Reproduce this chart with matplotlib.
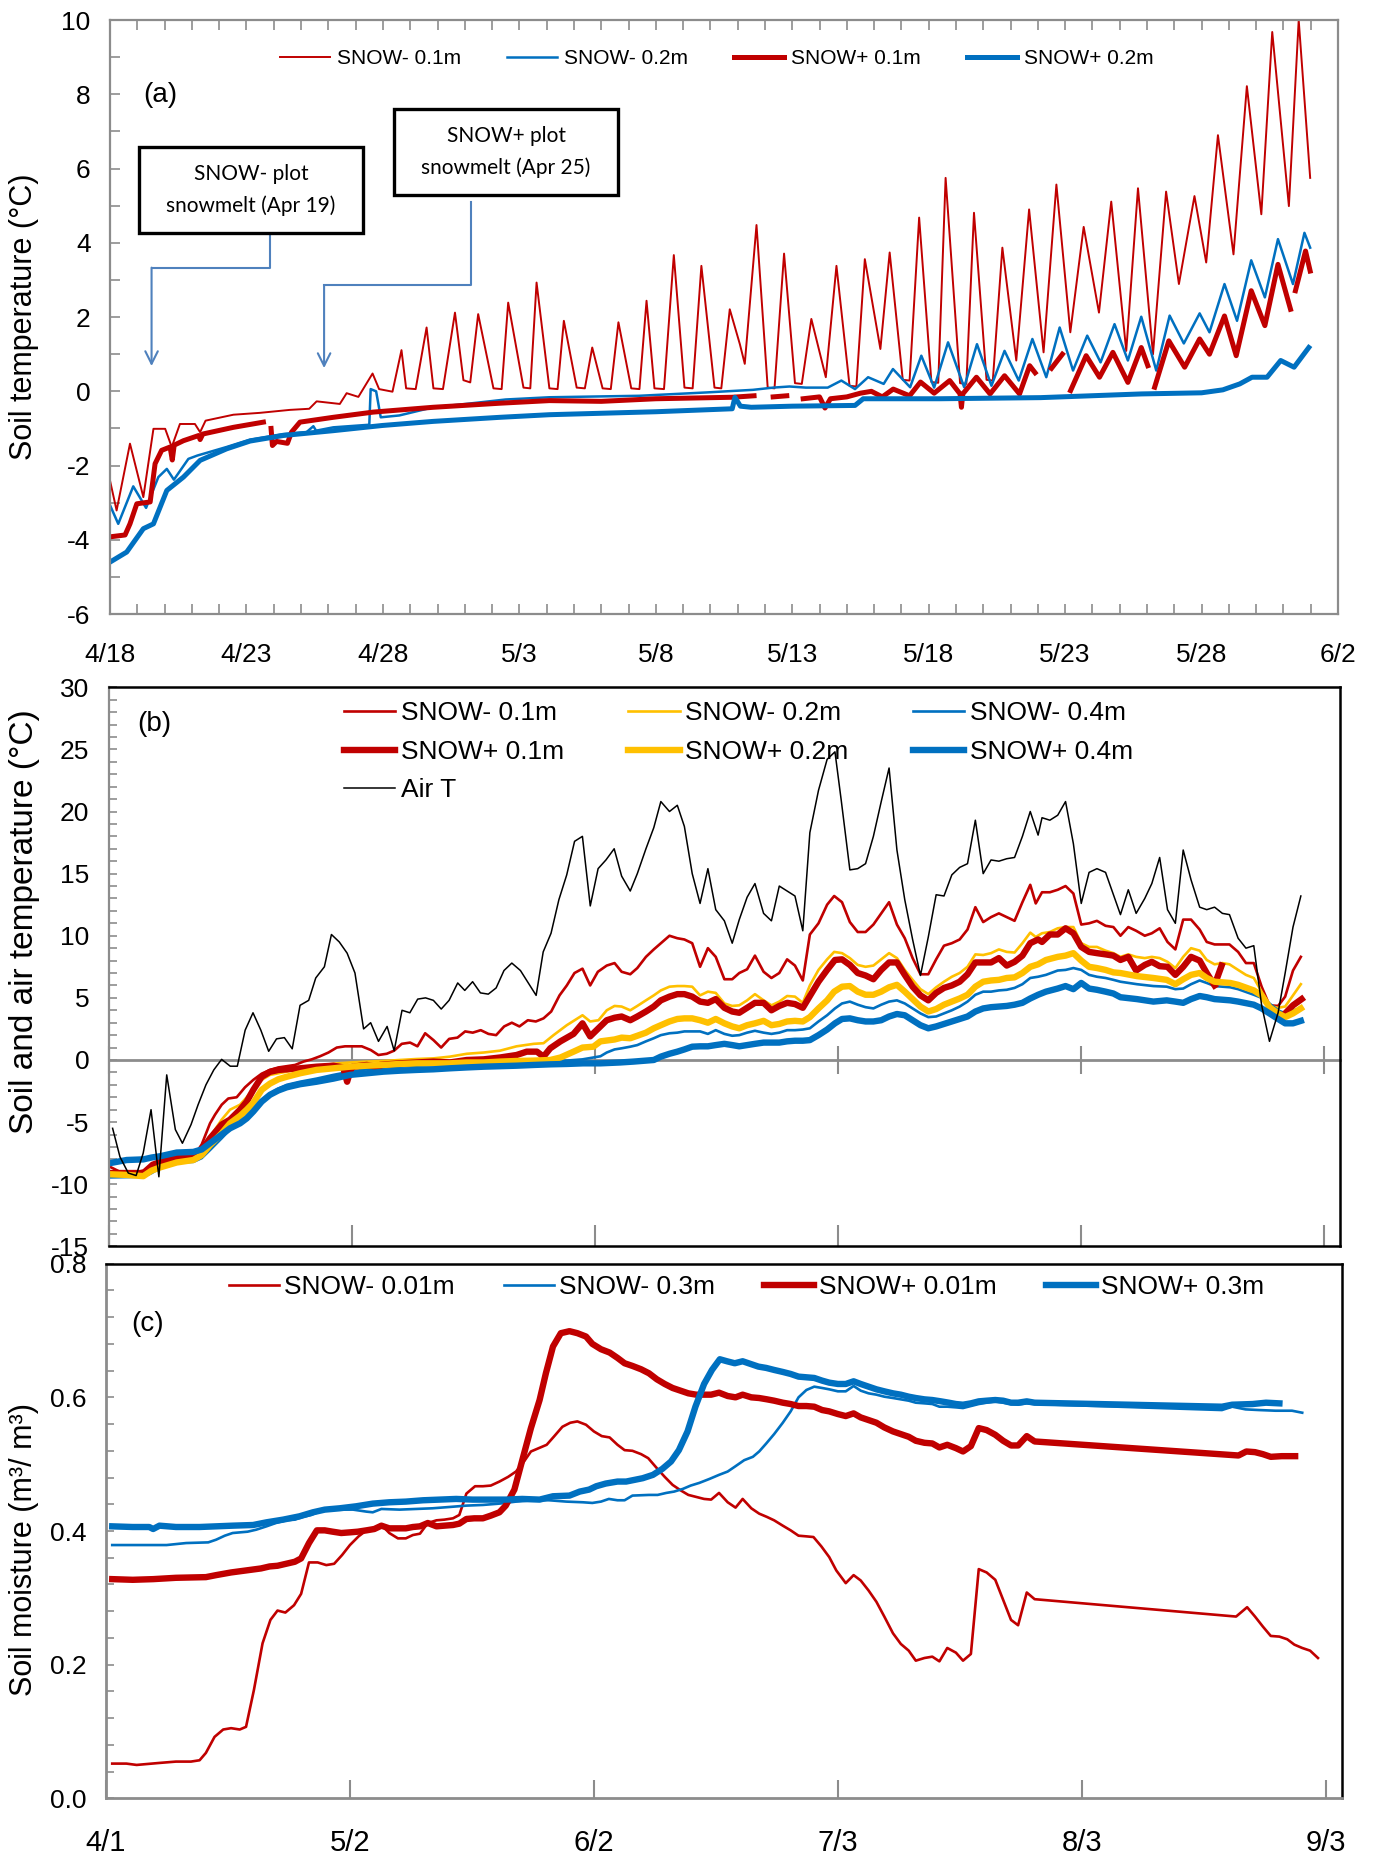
import numpy as np
import matplotlib
matplotlib.use("Agg")
import matplotlib.pyplot as plt
from matplotlib.patches import Rectangle
from matplotlib.ticker import MultipleLocator

plt.rcParams['font.family'] = ['Liberation Sans', 'DejaVu Sans']
plt.rcParams['axes.unicode_minus'] = False
nan = float('nan')

# ------------------------------------------------------------------ DATA
# Panel (a): x = days since 4/18 00:00, y = soil temperature (deg C)
a_xlabels = ["4/18", "4/23", "4/28", "5/3", "5/8", "5/13", "5/18", "5/23", "5/28", "6/2"]
a_snowm_01 = [
    (0.00, -2.41), (0.24, -3.21), (0.73, -1.41), (1.22, -2.85), (1.59, -1.01), (2.02, -1.01),
    (2.26, -1.50), (2.56, -0.88), (3.11, -0.88), (3.30, -1.10), (3.50, -0.79), (4.52, -0.63),
    (5.49, -0.58), (6.59, -0.50), (7.30, -0.47), (7.57, -0.27), (8.42, -0.34), (8.67, -0.05),
    (9.10, -0.15), (9.62, 0.48), (9.86, 0.06), (10.35, -0.01), (10.68, 1.11),
    (10.85, 0.08), (11.20, 0.06), (11.60, 1.72),
    (11.85, 0.08), (12.20, 0.06), (12.64, 2.12),
    (12.95, 0.30), (13.20, 0.24), (13.49, 2.08),
    (14.05, 0.08), (14.35, 0.06), (14.59, 2.39),
    (15.15, 0.10), (15.40, 0.08), (15.63, 2.93),
    (16.10, 0.08), (16.40, 0.06), (16.63, 1.90),
    (17.10, 0.10), (17.40, 0.08), (17.67, 1.18),
    (18.05, 0.08), (18.35, 0.06), (18.63, 1.86),
    (19.10, 0.08), (19.40, 0.06), (19.66, 2.44),
    (19.95, 0.08), (20.30, 0.06), (20.66, 3.67),
    (21.05, 0.10), (21.35, 0.08), (21.67, 3.38),
    (22.15, 0.10), (22.40, 0.08), (22.71, 2.21), (23.08, 1.27), (23.26, 0.74), (23.69, 4.48),
    (24.10, 0.10), (24.35, 0.08), (24.70, 3.71),
    (25.10, 0.22), (25.35, 0.20), (25.70, 1.95),
    (26.23, 0.38), (26.62, 3.38),
    (27.10, 0.15), (27.35, 0.13), (27.66, 3.56),
    (28.23, 1.14), (28.57, 3.74),
    (29.05, 0.31), (29.30, 0.29), (29.65, 4.68),
    (30.10, 0.25), (30.35, 0.23), (30.62, 5.75),
    (31.15, 0.22), (31.38, 0.20), (31.66, 4.81),
    (32.12, 0.31), (32.35, 0.29), (32.70, 3.87),
    (33.21, 0.83), (33.68, 4.90), (34.21, 1.05), (34.68, 5.57), (35.19, 1.59), (35.68, 4.43),
    (36.24, 2.12), (36.69, 5.11), (37.24, 1.09), (37.67, 5.47), (38.22, 1.00), (38.70, 5.38),
    (39.17, 2.89), (39.74, 5.26), (40.17, 3.47), (40.60, 6.90), (41.17, 3.69), (41.66, 8.22),
    (42.19, 4.77), (42.59, 9.68), (43.20, 4.99), (43.56, 10.0), (43.98, 5.75)]
a_snowm_02 = [
    (0.00, -3.07), (0.30, -3.57), (0.85, -2.56), (1.32, -3.14), (1.77, -2.31), (2.08, -2.09),
    (2.34, -2.38), (2.87, -1.82), (3.20, -1.73), (4.27, -1.50), (5.13, -1.30), (6.35, -1.15),
    (7.20, -1.10), (7.45, -0.94), (7.55, -1.06), (8.18, -0.97), (9.50, -0.90), (9.55, 0.06),
    (9.75, 0.00), (9.92, -0.70), (10.60, -0.65), (11.84, -0.43), (13.04, -0.34), (14.50, -0.22),
    (16.10, -0.16), (19.40, -0.12), (21.86, -0.03), (23.56, 0.04), (24.30, 0.10), (24.90, 0.13),
    (25.50, 0.10), (26.30, 0.10), (26.80, 0.29), (27.30, 0.06), (27.78, 0.38), (28.35, 0.20),
    (28.69, 0.60), (29.32, 0.11), (29.73, 0.96), (30.20, 0.10), (30.71, 1.32), (31.30, 0.11),
    (31.77, 1.27), (32.30, 0.15), (32.78, 1.09), (33.30, 0.29), (33.80, 1.41), (34.31, 0.38),
    (34.80, 1.72), (35.29, 0.56), (35.81, 1.50), (36.30, 0.78), (36.81, 1.81), (37.30, 0.83),
    (37.79, 2.01), (38.34, 0.56), (38.83, 2.04), (39.35, 1.29), (39.93, 2.10), (40.29, 1.59),
    (40.84, 2.89), (41.30, 1.90), (41.82, 3.53), (42.32, 2.53), (42.80, 4.10), (43.35, 2.89),
    (43.77, 4.27), (43.98, 3.87)]
a_snowp_01 = [
    (0.00, -3.92), (0.55, -3.87), (0.73, -3.57), (0.98, -3.03), (1.47, -2.98), (1.65, -1.95),
    (1.89, -1.59), (2.20, -1.50), (2.28, -1.85), (2.35, -1.45), (2.69, -1.33), (3.25, -1.19),
    (3.30, -1.30), (3.40, -1.15), (4.52, -0.97), (5.62, -0.83), (5.70, nan), (5.90, -1.00),
    (5.95, -1.46), (6.10, -1.35), (6.50, -1.40), (6.65, -1.10), (6.96, -0.83), (8.18, -0.70),
    (9.64, -0.56), (11.84, -0.43), (14.29, -0.32), (16.10, -0.25), (18.00, -0.27), (20.00, -0.20),
    (22.80, -0.16), (23.60, -0.12), (24.00, nan), (24.30, -0.15), (24.80, -0.12), (25.10, nan),
    (25.40, -0.20), (26.00, -0.15), (26.20, -0.45), (26.40, -0.20), (27.00, -0.15), (27.50, -0.05),
    (27.90, 0.00), (28.30, -0.15), (28.70, 0.06), (29.30, -0.12), (29.70, 0.25), (30.20, -0.05),
    (30.77, 0.29), (31.15, -0.07), (31.20, -0.43), (31.25, -0.07), (31.75, 0.38), (32.25, -0.07),
    (32.78, 0.42), (33.33, -0.07), (33.70, 0.69), (33.90, 0.50), (34.20, nan), (34.50, 0.62),
    (34.90, 1.00), (35.05, nan), (35.20, 0.02), (35.77, 0.96), (36.26, 0.38), (36.75, 1.05),
    (37.30, 0.24), (37.79, 1.18), (38.03, 0.69), (38.15, nan), (38.28, 0.11), (38.80, 1.36),
    (39.38, 0.65), (39.93, 1.41), (40.29, 1.00), (40.84, 2.03), (41.27, 0.96), (41.82, 2.71),
    (42.32, 1.77), (42.80, 3.42), (43.26, 2.21), (43.35, nan), (43.44, 2.71), (43.81, 3.78),
    (43.98, 3.24)]
a_snowp_02 = [
    (0.00, -4.60), (0.61, -4.33), (1.22, -3.70), (1.59, -3.57), (2.08, -2.67), (2.69, -2.31),
    (3.30, -1.86), (4.27, -1.55), (5.13, -1.34), (6.35, -1.19), (8.18, -1.06), (9.98, -0.92),
    (11.84, -0.81), (14.29, -0.70), (16.10, -0.63), (20.00, -0.55), (22.80, -0.47), (22.90, -0.16),
    (23.10, -0.40), (23.50, -0.43), (25.00, -0.40), (27.30, -0.38), (27.60, -0.20), (30.40, -0.20),
    (34.10, -0.17), (37.80, -0.07), (40.00, -0.04), (40.78, 0.04), (41.40, 0.20), (41.85, 0.38),
    (42.40, 0.38), (42.90, 0.83), (43.39, 0.65), (43.93, 1.18)]

# Panel (b): x = days since 4/1, y = temperature (deg C)
b_snowm_01 = [
    (0.17, -8.6), (1.44, -9.0), (3.14, -9.1), (4.42, -8.9), (5.48, -8.3), (6.54, -8.05), (7.61, -7.8),
    (8.67, -7.65), (9.94, -7.5), (11.22, -7.4), (11.86, -6.8), (12.92, -5.1), (13.56, -4.4),
    (14.41, -3.6), (15.25, -3.1), (16.32, -3.0), (17.38, -2.2), (18.44, -1.6), (19.51, -1.1),
    (20.57, -0.8), (21.64, -0.6), (22.7, -0.5), (23.76, -0.4), (24.83, -0.13), (25.89, 0.05),
    (26.95, 0.3), (28.02, 0.6), (29.08, 1.0), (30.14, 1.1), (31.2, 1.1), (32.27, 1.1), (33.42, 0.8),
    (34.39, 0.4), (35.45, 0.5), (36.39, 0.75), (37.37, 1.3), (38.43, 1.4), (39.37, 1.1), (40.35, 2.15),
    (41.41, 1.6), (42.39, 1.0), (43.41, 1.7), (44.47, 1.8), (45.45, 2.3), (46.42, 2.2), (47.44, 2.4),
    (48.42, 2.1), (49.4, 2.0), (50.42, 2.7), (51.4, 3.0), (52.37, 2.7), (53.44, 3.2), (54.46, 3.1),
    (55.44, 3.35), (56.42, 3.9), (57.48, 5.2), (58.41, 6.0), (59.39, 7.0), (60.41, 7.35), (61.39, 6.0),
    (62.37, 7.1), (63.5, 7.6), (64.5, 7.8), (65.4, 7.1), (66.5, 6.9), (67.4, 7.4), (68.5, 8.3),
    (69.5, 8.9), (70.4, 9.4), (71.5, 10.0), (72.5, 9.8), (73.4, 9.7), (74.4, 9.4), (75.4, 7.5),
    (76.4, 9.0), (77.4, 8.3), (78.5, 6.5), (79.5, 6.5), (80.4, 7.0), (81.4, 7.3), (82.4, 8.4),
    (83.5, 7.1), (84.5, 6.6), (85.5, 7.0), (86.5, 8.1), (87.5, 7.6), (88.5, 6.4), (89.4, 10.1),
    (90.5, 11.0), (91.6, 12.5), (92.5, 13.2), (93.5, 12.7), (94.5, 11.1), (95.5, 10.3), (96.5, 10.3),
    (97.5, 10.9), (98.5, 11.8), (99.5, 12.7), (100.5, 10.9), (101.5, 9.8), (102.5, 8.2), (103.5, 6.9),
    (104.5, 6.9), (105.5, 8.1), (106.5, 9.2), (107.5, 9.4), (108.5, 9.7), (109.5, 10.5), (110.5, 12.3),
    (111.5, 11.1), (112.5, 11.5), (113.5, 11.8), (114.5, 11.5), (115.5, 11.2), (116.5, 12.7),
    (117.5, 14.1), (118.2, 12.6), (119.0, 13.5), (120.0, 13.5), (121.0, 13.7), (122.0, 14.0),
    (123.0, 13.4), (124.0, 10.9), (125.0, 11.0), (126.0, 11.2), (127.1, 10.8), (128.1, 10.7),
    (129.0, 10.0), (130.0, 10.7), (131.0, 10.4), (132.1, 10.0), (133.0, 10.2), (134.0, 10.6),
    (135.0, 9.5), (136.0, 8.9), (137.0, 11.3), (138.0, 11.3), (139.1, 10.5), (140.0, 9.5),
    (141.0, 9.3), (142.0, 9.3), (142.9, 9.3), (144.0, 8.7), (145.0, 7.8), (146.0, 7.8), (147.0, 5.9),
    (148.0, 4.4), (149.1, 4.35), (150.0, 5.1), (151.0, 7.2), (152.0, 8.3)]
b_snowm_02 = [
    (0.17, -9.25), (4.42, -9.4), (5.48, -8.9), (6.54, -8.4), (8.67, -8.05), (10.8, -7.9), (11.86, -7.4),
    (12.92, -6.2), (14.41, -4.8), (15.47, -4.0), (16.75, -3.6), (17.6, -3.0), (18.44, -2.3),
    (19.51, -1.6), (20.57, -1.2), (22.7, -0.94), (24.4, -0.67), (26.5, -0.5), (28.65, -0.3),
    (30.77, -0.2), (32.9, -0.13), (35.03, -0.08), (37.15, 0.0), (39.28, 0.08), (41.4, 0.13),
    (43.53, 0.27), (45.66, 0.5), (47.8, 0.6), (49.9, 0.75), (52.0, 1.1), (54.2, 1.3), (55.44, 1.35),
    (56.72, 2.0), (58.41, 2.8), (60.41, 3.6), (61.39, 3.1), (62.45, 3.2), (63.5, 4.0), (64.5, 4.35),
    (65.4, 4.3), (66.5, 4.0), (67.4, 4.35), (68.5, 4.8), (69.5, 5.2), (70.4, 5.6), (71.5, 5.9),
    (72.5, 5.95), (73.4, 5.95), (74.4, 5.9), (75.4, 5.2), (76.4, 5.5), (77.4, 5.4), (78.5, 4.55),
    (79.5, 4.35), (80.4, 4.4), (81.4, 4.8), (82.4, 5.3), (83.5, 4.8), (84.5, 4.4), (85.5, 4.7),
    (86.5, 5.15), (87.5, 5.1), (88.5, 4.6), (89.4, 6.0), (90.5, 7.25), (91.6, 8.1), (92.5, 8.7),
    (93.5, 8.6), (94.5, 8.2), (95.5, 7.65), (96.5, 7.5), (97.5, 7.6), (98.5, 8.1), (99.5, 8.6),
    (100.5, 8.2), (101.5, 7.25), (102.5, 6.45), (103.5, 5.7), (104.5, 5.3), (105.5, 5.85),
    (106.5, 6.3), (107.5, 6.7), (108.5, 7.0), (109.5, 7.5), (110.5, 8.5), (111.5, 8.45), (112.5, 8.6),
    (113.5, 8.9), (114.5, 8.7), (115.5, 8.65), (116.5, 9.4), (117.5, 10.25), (118.2, 9.9),
    (119.0, 10.2), (120.0, 10.3), (121.0, 10.6), (122.0, 10.7), (123.0, 10.7), (124.0, 9.4),
    (125.0, 9.1), (126.0, 9.1), (127.1, 8.8), (128.1, 8.6), (129.0, 8.3), (130.0, 8.5), (131.0, 8.3),
    (132.1, 8.2), (133.0, 8.3), (134.0, 8.2), (135.0, 7.9), (136.0, 7.4), (137.0, 8.3), (138.0, 9.0),
    (139.1, 8.8), (140.0, 8.05), (141.0, 7.7), (142.0, 7.8), (142.9, 7.7), (144.0, 7.25), (145.0, 6.85),
    (146.0, 6.6), (147.0, 5.5), (148.0, 4.35), (149.1, 4.2), (150.0, 4.3), (151.0, 5.2), (152.0, 6.1)]
b_snowm_04 = [
    (0.17, -9.45), (4.42, -9.4), (5.48, -9.1), (6.54, -8.7), (8.67, -8.25), (10.8, -8.2), (11.86, -7.9),
    (12.92, -7.25), (14.41, -6.3), (15.47, -5.6), (16.75, -5.0), (17.6, -4.55), (18.44, -4.0),
    (19.51, -3.3), (20.57, -2.7), (21.64, -2.3), (22.7, -2.0), (24.4, -1.75), (26.5, -1.5),
    (28.65, -1.2), (30.77, -0.94), (32.9, -0.75), (35.03, -0.62), (37.15, -0.54), (39.28, -0.46),
    (41.4, -0.4), (43.5, -0.35), (45.66, -0.32), (47.8, -0.27), (49.9, -0.2), (52.0, -0.2),
    (54.2, -0.16), (56.3, -0.13), (58.4, -0.05), (60.4, 0.05), (61.8, 0.2), (62.7, 0.3), (63.5, 0.6),
    (64.5, 0.85), (65.4, 0.94), (66.5, 1.07), (67.4, 1.2), (68.5, 1.5), (69.5, 1.75), (70.4, 2.0),
    (71.5, 2.15), (72.5, 2.2), (73.4, 2.3), (74.4, 2.3), (75.4, 2.3), (76.4, 2.1), (77.4, 2.4),
    (78.5, 2.1), (79.5, 1.95), (80.4, 2.0), (81.4, 2.2), (82.4, 2.35), (83.5, 2.2), (84.5, 2.1),
    (85.5, 2.2), (86.5, 2.4), (87.5, 2.4), (88.5, 2.45), (89.4, 2.55), (90.5, 3.1), (91.6, 3.6),
    (92.6, 4.15), (93.5, 4.55), (94.5, 4.7), (95.5, 4.45), (96.5, 4.25), (97.5, 4.15), (98.5, 4.45),
    (99.5, 4.7), (100.5, 4.8), (101.5, 4.55), (102.5, 4.15), (103.5, 3.75), (104.5, 3.45),
    (105.5, 3.5), (106.5, 3.75), (107.5, 4.0), (108.5, 4.3), (109.5, 4.7), (110.5, 5.25), (111.5, 5.5),
    (112.5, 5.5), (113.5, 5.6), (114.5, 5.65), (115.5, 5.8), (116.5, 6.1), (117.5, 6.6), (118.5, 6.7),
    (119.5, 6.85), (121.0, 7.2), (122.0, 7.25), (123.0, 7.4), (124.0, 7.25), (125.0, 6.85),
    (126.0, 6.7), (127.1, 6.6), (128.1, 6.45), (129.0, 6.3), (131.1, 6.1), (133.2, 5.95), (134.9, 5.9),
    (136.0, 5.7), (137.0, 5.75), (138.0, 6.1), (139.1, 6.4), (140.0, 6.2), (141.0, 5.95), (143.0, 5.85),
    (144.0, 5.7), (146.0, 5.25), (147.0, 5.0), (148.0, 4.55), (149.1, 4.0), (150.0, 3.75),
    (151.0, 4.0), (152.0, 4.15)]
b_snowp_01 = [
    (0.17, -9.1), (2.3, -9.1), (4.42, -9.1), (5.48, -8.7), (6.54, -8.2), (8.67, -7.85), (10.8, -7.65),
    (11.86, -7.25), (12.92, -6.3), (14.41, -5.2), (15.47, -4.8), (16.75, -4.0), (17.6, -3.35),
    (18.44, -2.4), (19.51, -1.35), (20.57, -0.95), (21.64, -0.8), (22.7, -0.75), (24.4, -0.67),
    (26.5, -0.54), (28.65, -0.46), (29.9, -0.6), (30.4, -1.75), (30.9, -0.7), (31.2, -0.54),
    (32.9, -0.4), (34.2, -0.55), (34.4, -0.94), (34.6, -0.4), (35.45, -0.35), (37.15, -0.27),
    (39.28, -0.2), (41.4, -0.13), (43.5, -0.2), (45.66, 0.0), (47.8, 0.05), (49.9, 0.2), (52.0, 0.4),
    (53.3, 0.67), (54.6, 0.67), (55.44, 0.27), (56.3, 0.94), (57.6, 1.5), (59.27, 2.1), (60.41, 2.95),
    (61.39, 1.9), (62.45, 2.55), (63.5, 3.2), (64.5, 3.4), (65.4, 3.5), (66.5, 3.2), (67.4, 3.5),
    (68.5, 3.9), (69.5, 4.3), (70.4, 4.8), (71.5, 5.1), (72.5, 5.3), (73.4, 5.3), (74.4, 5.1),
    (75.4, 4.7), (76.4, 4.6), (77.4, 4.9), (78.5, 4.2), (79.5, 3.9), (80.4, 3.8), (81.4, 4.2),
    (82.4, 4.6), (83.5, 4.6), (84.5, 4.0), (85.5, 4.35), (86.5, 4.6), (87.5, 4.5), (88.5, 4.2),
    (89.4, 5.15), (90.5, 6.3), (91.6, 7.25), (92.6, 8.05), (93.5, 8.1), (94.5, 7.65), (95.5, 7.0),
    (96.5, 6.8), (97.5, 6.5), (98.5, 7.25), (99.5, 7.85), (100.5, 7.85), (101.5, 6.85), (102.5, 5.9),
    (103.5, 5.2), (104.5, 4.8), (105.5, 5.4), (106.5, 5.8), (107.5, 6.0), (108.5, 6.3), (109.5, 6.9),
    (110.5, 7.85), (111.5, 7.85), (112.5, 7.85), (113.5, 8.2), (114.5, 7.6), (115.5, 7.9),
    (116.5, 8.4), (117.5, 9.4), (118.5, 9.7), (119.0, 9.5), (120.0, 10.1), (121.0, 10.1),
    (122.0, 10.6), (123.0, 10.2), (124.0, 9.1), (125.0, 8.7), (126.0, 8.6), (127.1, 8.5),
    (128.1, 8.4), (129.0, 8.05), (130.0, 8.3), (131.0, 7.2), (132.1, 7.65), (133.0, 7.9),
    (134.0, 7.55), (135.0, 7.5), (136.0, 6.85), (137.0, 7.5), (138.0, 8.3), (139.1, 8.0),
    (140.0, 7.0), (141.0, 6.0), (141.05, nan), (141.1, 6.2), (141.9, 7.6), (142.0, nan),
    (150.0, 3.75), (151.0, 4.4), (152.1, 4.9)]
b_snowp_02 = [
    (0.17, -9.2), (2.3, -9.25), (4.42, -9.35), (5.48, -8.9), (6.54, -8.65), (8.67, -8.25),
    (10.8, -8.05), (11.86, -7.65), (12.92, -6.85), (14.41, -5.9), (15.47, -5.1), (16.75, -4.5),
    (17.6, -4.0), (18.44, -3.45), (19.51, -2.4), (20.57, -1.9), (21.64, -1.55), (22.7, -1.35),
    (24.4, -1.07), (26.5, -0.8), (28.65, -0.67), (30.77, -0.54), (32.9, -0.46), (35.03, -0.4),
    (37.15, -0.32), (39.28, -0.27), (43.5, -0.27), (45.66, -0.2), (47.8, -0.2), (49.9, -0.13),
    (52.0, -0.08), (54.2, -0.05), (56.3, 0.0), (57.6, 0.2), (59.27, 0.67), (60.41, 1.0),
    (61.8, 1.07), (62.7, 1.5), (64.5, 1.65), (65.4, 1.8), (66.5, 1.75), (67.4, 1.95), (68.5, 2.2),
    (69.5, 2.55), (70.4, 2.8), (71.5, 3.1), (72.5, 3.3), (73.4, 3.35), (74.4, 3.35), (75.4, 3.2),
    (76.4, 3.0), (77.4, 3.3), (78.5, 2.95), (79.5, 2.7), (80.4, 2.55), (81.4, 2.8), (82.4, 2.95),
    (83.5, 3.15), (84.5, 2.8), (85.5, 2.9), (86.5, 3.1), (87.5, 3.15), (88.5, 3.1), (89.4, 3.45),
    (90.5, 4.15), (91.6, 4.8), (92.5, 5.5), (93.5, 5.9), (94.5, 5.95), (95.5, 5.5), (96.5, 5.25),
    (97.5, 5.25), (98.5, 5.5), (99.5, 5.85), (100.5, 6.05), (101.5, 5.5), (102.5, 4.9), (103.5, 4.3),
    (104.5, 3.9), (105.5, 4.1), (106.5, 4.45), (107.5, 4.7), (108.5, 4.95), (109.5, 5.25),
    (110.5, 5.9), (111.5, 6.3), (112.5, 6.4), (113.5, 6.45), (114.5, 6.6), (115.5, 6.65),
    (116.5, 7.0), (117.5, 7.5), (118.5, 7.7), (119.5, 8.05), (121.0, 8.3), (122.0, 8.4),
    (123.0, 8.6), (124.0, 8.0), (125.0, 7.5), (126.0, 7.4), (127.1, 7.25), (128.1, 7.05),
    (129.0, 7.0), (131.1, 6.75), (133.2, 6.6), (134.9, 6.45), (136.0, 6.1), (137.0, 6.5),
    (138.0, 6.85), (139.1, 7.0), (140.0, 6.6), (141.0, 6.3), (143.0, 6.2), (144.0, 6.05),
    (146.0, 5.6), (147.0, 5.2), (148.0, 4.25), (149.1, 3.75), (150.0, 3.45), (151.0, 3.75),
    (152.0, 4.15)]
b_snowp_04 = [
    (0.17, -8.3), (2.3, -8.05), (4.42, -8.0), (5.48, -7.85), (6.54, -7.75), (8.67, -7.45),
    (10.8, -7.4), (11.86, -7.2), (12.92, -6.7), (14.41, -6.0), (15.47, -5.5), (16.75, -5.1),
    (17.6, -4.7), (18.44, -4.15), (19.51, -3.35), (20.57, -2.8), (21.64, -2.45), (22.7, -2.2),
    (24.4, -1.95), (26.5, -1.75), (28.65, -1.5), (30.77, -1.2), (32.9, -1.07), (35.03, -0.94),
    (37.15, -0.86), (39.28, -0.8), (41.4, -0.75), (43.5, -0.67), (45.66, -0.6), (47.8, -0.54),
    (49.9, -0.5), (52.0, -0.46), (54.2, -0.4), (56.3, -0.35), (58.4, -0.32), (60.5, -0.27),
    (62.7, -0.27), (65.2, -0.2), (66.9, -0.13), (69.5, 0.0), (70.4, 0.27), (71.5, 0.5), (72.5, 0.67),
    (73.4, 0.85), (74.4, 1.07), (75.4, 1.1), (76.4, 1.1), (77.4, 1.2), (78.5, 1.3), (79.5, 1.2),
    (80.4, 1.1), (81.4, 1.2), (82.4, 1.3), (83.5, 1.4), (84.5, 1.4), (85.5, 1.4), (86.5, 1.5),
    (87.5, 1.55), (88.5, 1.55), (89.4, 1.6), (90.5, 2.0), (91.6, 2.45), (92.6, 2.95), (93.5, 3.3),
    (94.5, 3.35), (95.5, 3.2), (96.5, 3.1), (97.5, 3.1), (98.5, 3.2), (99.5, 3.5), (100.5, 3.7),
    (101.5, 3.6), (102.5, 3.2), (103.5, 2.8), (104.5, 2.55), (105.5, 2.7), (106.5, 2.9), (107.5, 3.1),
    (108.5, 3.3), (109.5, 3.5), (110.5, 3.9), (111.5, 4.15), (112.5, 4.25), (113.5, 4.3),
    (114.5, 4.35), (115.5, 4.45), (116.5, 4.6), (117.5, 4.95), (118.5, 5.25), (119.5, 5.5),
    (121.0, 5.75), (122.0, 5.95), (123.0, 5.7), (124.0, 6.2), (125.0, 5.75), (126.0, 5.65),
    (127.1, 5.5), (128.1, 5.35), (129.0, 5.05), (131.1, 4.9), (133.2, 4.7), (134.9, 4.8), (136.0, 4.7),
    (137.0, 4.6), (138.0, 4.9), (139.1, 5.15), (140.0, 5.05), (141.0, 4.9), (143.0, 4.8), (144.0, 4.7),
    (146.0, 4.45), (147.0, 4.15), (148.0, 3.75), (149.1, 3.3), (150.0, 2.95), (151.0, 2.95),
    (152.0, 3.15)]
b_air = [
    (0.5, -5.5), (1.44, -7.8), (2.5, -9.1), (3.5, -9.3), (4.4, -7.5), (5.4, -4.0), (6.4, -9.4),
    (7.4, -1.2), (8.5, -5.6), (9.4, -6.7), (10.5, -5.2), (11.4, -3.6), (12.4, -2.0), (13.4, -0.8),
    (14.4, 0.05), (15.5, -0.5), (16.4, -0.5), (17.4, 2.4), (18.4, 3.8), (19.4, 2.4), (20.4, 0.7),
    (21.4, 1.7), (22.4, 1.8), (23.4, 0.9), (24.4, 4.4), (25.5, 4.8), (26.4, 6.6), (27.5, 7.5),
    (28.4, 10.1), (29.4, 9.5), (30.4, 8.6), (31.4, 7.0), (32.5, 2.5), (33.4, 3.0), (34.4, 1.5),
    (35.5, 2.7), (36.4, 0.75), (37.4, 4.0), (38.4, 3.8), (39.4, 4.9), (40.4, 5.0), (41.4, 4.8),
    (42.4, 4.1), (43.4, 4.8), (44.5, 6.2), (45.4, 5.6), (46.4, 6.3), (47.4, 5.4), (48.4, 5.3),
    (49.4, 5.8), (50.4, 7.2), (51.4, 7.8), (52.5, 7.2), (53.4, 6.3), (54.5, 5.2), (55.4, 8.7),
    (56.4, 10.2), (57.4, 12.9), (58.4, 14.9), (59.4, 17.6), (60.4, 18.0), (61.4, 12.4), (62.4, 15.4),
    (63.4, 16.1), (64.45, 17.0), (65.4, 14.8), (66.5, 13.6), (67.4, 15.0), (68.5, 17.0), (69.5, 18.7),
    (70.4, 20.8), (71.5, 20.0), (72.5, 20.5), (73.4, 18.8), (74.4, 15.0), (75.4, 12.6), (76.4, 15.4),
    (77.4, 12.1), (78.5, 11.2), (79.5, 9.4), (80.4, 11.3), (81.4, 13.1), (82.4, 14.2), (83.5, 11.8),
    (84.5, 11.2), (85.5, 14.0), (86.5, 13.6), (87.5, 13.2), (88.5, 10.4), (89.4, 18.3), (90.5, 21.7),
    (91.6, 24.2), (92.6, 24.8), (93.4, 20.9), (94.5, 15.3), (95.5, 15.4), (96.5, 15.8), (97.5, 18.0),
    (98.5, 20.8), (99.5, 23.5), (100.5, 16.9), (101.5, 12.9), (102.5, 9.7), (103.5, 6.8), (104.5, 9.9),
    (105.5, 13.3), (106.5, 13.2), (107.5, 14.9), (108.5, 15.5), (109.5, 15.8), (110.5, 19.3),
    (111.5, 15.0), (112.5, 16.1), (113.5, 16.0), (114.5, 16.2), (115.5, 16.3), (116.5, 18.0),
    (117.5, 20.0), (118.5, 18.1), (119.0, 19.5), (120.0, 19.3), (121.0, 19.7), (122.0, 20.8),
    (123.0, 17.4), (124.0, 12.6), (125.0, 15.1), (126.0, 15.4), (127.1, 15.1), (128.1, 13.3),
    (129.0, 11.7), (130.0, 13.7), (131.0, 11.8), (132.1, 13.0), (133.0, 14.2), (134.0, 16.3),
    (135.0, 12.1), (136.0, 11.0), (137.0, 16.9), (138.0, 14.5), (139.1, 12.3), (140.0, 12.1),
    (141.0, 12.3), (142.0, 11.8), (142.9, 11.7), (144.0, 9.8), (145.0, 9.0), (146.0, 9.2),
    (147.0, 4.4), (148.0, 1.5), (149.1, 3.8), (150.0, 7.0), (151.0, 10.7), (152.0, 13.2)]

# Panel (c): x = days since 4/1, y = soil moisture (m3/m3)
c_xlabels = ["4/1", "5/2", "6/2", "7/3", "8/3", "9/3"]
c_snowm_001 = [
    (0.8, 0.052), (2.6, 0.052), (3.9, 0.050), (6.8, 0.053), (8.9, 0.055), (10.8, 0.055), (11.9, 0.057),
    (12.7, 0.068), (13.8, 0.092), (14.9, 0.103), (15.9, 0.105), (17.0, 0.103), (17.8, 0.107),
    (18.8, 0.162), (19.9, 0.232), (20.9, 0.267), (21.8, 0.281), (22.8, 0.278), (23.9, 0.289),
    (24.8, 0.306), (25.8, 0.353), (26.9, 0.353), (28.0, 0.349), (29.0, 0.351), (30.0, 0.364),
    (31.0, 0.379), (32.1, 0.392), (33.1, 0.401), (34.0, 0.403), (35.1, 0.408), (36.0, 0.397),
    (37.1, 0.389), (38.1, 0.389), (39.0, 0.394), (39.9, 0.396), (40.9, 0.412), (42.0, 0.416),
    (43.0, 0.417), (44.1, 0.419), (44.9, 0.424), (45.8, 0.456), (46.9, 0.467), (47.9, 0.467),
    (48.9, 0.468), (50.0, 0.474), (51.1, 0.481), (52.1, 0.489), (53.0, 0.502), (54.0, 0.519),
    (55.0, 0.524), (56.0, 0.529), (56.9, 0.541), (58.0, 0.556), (59.0, 0.562), (59.9, 0.564),
    (61.0, 0.559), (62.0, 0.549), (63.0, 0.542), (64.0, 0.540), (65.0, 0.529), (65.9, 0.521),
    (66.9, 0.520), (68.0, 0.515), (68.9, 0.509), (70.0, 0.494), (71.0, 0.481), (72.0, 0.469),
    (73.0, 0.461), (74.0, 0.454), (75.0, 0.451), (76.0, 0.448), (76.9, 0.447), (77.9, 0.457),
    (79.0, 0.443), (80.0, 0.435), (80.9, 0.448), (82.0, 0.434), (83.0, 0.426), (84.0, 0.421),
    (84.9, 0.416), (86.0, 0.408), (87.0, 0.401), (88.0, 0.393), (89.0, 0.392), (89.9, 0.391),
    (90.9, 0.377), (91.9, 0.361), (92.8, 0.341), (94.0, 0.322), (95.0, 0.334), (95.9, 0.326),
    (96.9, 0.311), (97.9, 0.294), (98.9, 0.272), (100.0, 0.247), (101.0, 0.231), (102.0, 0.221),
    (102.9, 0.206), (104.0, 0.210), (105.0, 0.212), (105.9, 0.205), (106.9, 0.225), (108.0, 0.218),
    (108.9, 0.206), (109.9, 0.216), (110.9, 0.343), (111.9, 0.338), (113.0, 0.327), (114.0, 0.297),
    (115.0, 0.267), (115.9, 0.259), (117.0, 0.308), (118.0, 0.298), (143.6, 0.272), (145.0, 0.286),
    (146.0, 0.272), (147.0, 0.257), (148.0, 0.243), (149.1, 0.242), (150.1, 0.238), (151.0, 0.230),
    (152.0, 0.225), (153.0, 0.221), (154.0, 0.210)]
c_snowm_03 = [
    (0.8, 0.379), (4.3, 0.379), (7.7, 0.379), (10.2, 0.382), (13.0, 0.383), (14.0, 0.387),
    (15.1, 0.393), (16.1, 0.397), (18.0, 0.399), (19.1, 0.402), (20.4, 0.407), (21.6, 0.412),
    (22.9, 0.416), (24.0, 0.417), (25.0, 0.421), (26.1, 0.424), (27.1, 0.429), (28.4, 0.432),
    (29.7, 0.432), (31.4, 0.432), (33.1, 0.429), (33.9, 0.428), (35.0, 0.433), (37.3, 0.432),
    (39.4, 0.433), (41.5, 0.434), (43.7, 0.436), (45.8, 0.438), (47.9, 0.439), (50.0, 0.441),
    (52.1, 0.444), (54.2, 0.446), (56.3, 0.446), (58.5, 0.444), (60.6, 0.443), (61.8, 0.442),
    (62.9, 0.444), (63.9, 0.448), (65.0, 0.446), (65.9, 0.446), (66.9, 0.453), (69.0, 0.454),
    (70.1, 0.454), (71.2, 0.457), (72.2, 0.459), (73.3, 0.463), (74.3, 0.468), (75.4, 0.472),
    (76.7, 0.478), (77.9, 0.484), (79.0, 0.489), (80.0, 0.497), (81.1, 0.506), (82.2, 0.511),
    (83.0, 0.519), (83.9, 0.531), (84.9, 0.545), (86.0, 0.562), (87.0, 0.579), (88.0, 0.600),
    (89.0, 0.611), (90.0, 0.616), (91.0, 0.614), (91.9, 0.612), (93.0, 0.609), (94.0, 0.609),
    (95.0, 0.617), (95.9, 0.610), (96.9, 0.606), (97.9, 0.604), (98.9, 0.601), (100.0, 0.599),
    (101.0, 0.597), (102.0, 0.595), (102.9, 0.592), (104.0, 0.591), (105.0, 0.590), (105.9, 0.586),
    (106.9, 0.586), (108.0, 0.585), (108.9, 0.584), (109.9, 0.587), (110.9, 0.590), (111.9, 0.592),
    (113.0, 0.594), (114.0, 0.592), (115.0, 0.590), (115.9, 0.589), (117.0, 0.591), (118.0, 0.590),
    (141.8, 0.581), (143.1, 0.586), (144.8, 0.582), (146.5, 0.581), (148.6, 0.580), (150.7, 0.580),
    (152.0, 0.577)]
c_snowp_001 = [
    (0.8, 0.328), (3.4, 0.327), (6.0, 0.328), (8.9, 0.330), (12.7, 0.331), (14.0, 0.334),
    (15.9, 0.338), (17.8, 0.341), (19.7, 0.344), (20.8, 0.347), (21.8, 0.348), (22.9, 0.351),
    (24.0, 0.354), (24.8, 0.359), (25.8, 0.382), (26.8, 0.401), (27.8, 0.401), (28.8, 0.399),
    (29.9, 0.397), (31.0, 0.398), (32.0, 0.399), (33.1, 0.401), (34.1, 0.403), (35.0, 0.408),
    (36.0, 0.404), (37.1, 0.404), (38.1, 0.404), (39.0, 0.406), (39.9, 0.407), (40.9, 0.412),
    (42.0, 0.407), (43.0, 0.408), (44.1, 0.409), (44.9, 0.411), (45.8, 0.418), (46.8, 0.419),
    (47.9, 0.419), (48.9, 0.423), (50.0, 0.428), (50.8, 0.438), (51.9, 0.462), (52.9, 0.506),
    (54.0, 0.554), (55.1, 0.596), (55.9, 0.636), (56.8, 0.676), (57.8, 0.696), (58.9, 0.699),
    (59.9, 0.696), (61.0, 0.691), (61.8, 0.680), (62.9, 0.672), (64.0, 0.667), (65.0, 0.659),
    (65.9, 0.651), (66.9, 0.647), (68.0, 0.642), (69.0, 0.636), (70.0, 0.627), (71.0, 0.620),
    (72.0, 0.614), (73.0, 0.610), (74.0, 0.606), (75.0, 0.604), (76.0, 0.604), (76.9, 0.604),
    (77.9, 0.607), (79.0, 0.602), (80.0, 0.600), (80.9, 0.604), (82.0, 0.600), (83.0, 0.599),
    (84.0, 0.597), (84.9, 0.595), (86.0, 0.592), (87.0, 0.590), (88.0, 0.587), (89.0, 0.587),
    (90.0, 0.586), (91.0, 0.581), (91.9, 0.579), (93.0, 0.575), (94.0, 0.572), (95.0, 0.576),
    (95.9, 0.570), (96.9, 0.566), (97.9, 0.562), (98.9, 0.555), (100.0, 0.549), (101.0, 0.545),
    (102.0, 0.541), (102.9, 0.535), (104.0, 0.532), (105.0, 0.531), (105.9, 0.525), (106.9, 0.529),
    (108.0, 0.524), (108.9, 0.519), (109.9, 0.527), (110.9, 0.554), (111.9, 0.551), (113.0, 0.544),
    (114.0, 0.535), (115.0, 0.528), (115.9, 0.528), (117.0, 0.542), (118.0, 0.534), (143.9, 0.513),
    (144.9, 0.519), (146.0, 0.518), (147.0, 0.515), (148.0, 0.511), (149.4, 0.512), (151.1, 0.512)]
c_snowp_03 = [
    (0.8, 0.407), (3.4, 0.406), (5.5, 0.406), (6.0, 0.403), (6.8, 0.408), (8.9, 0.406), (11.9, 0.406),
    (14.0, 0.407), (16.1, 0.408), (18.7, 0.409), (20.4, 0.413), (22.5, 0.417), (24.6, 0.422),
    (26.3, 0.428), (27.8, 0.432), (29.7, 0.434), (31.8, 0.437), (33.9, 0.441), (36.0, 0.443),
    (38.1, 0.444), (40.3, 0.446), (42.4, 0.447), (44.5, 0.448), (46.6, 0.447), (48.7, 0.447),
    (50.8, 0.447), (52.9, 0.448), (55.1, 0.447), (56.8, 0.452), (58.9, 0.453), (60.2, 0.459),
    (61.4, 0.462), (62.3, 0.467), (63.5, 0.471), (65.0, 0.474), (66.1, 0.474), (68.2, 0.479),
    (69.5, 0.484), (70.7, 0.493), (71.8, 0.504), (72.8, 0.521), (73.9, 0.549), (74.9, 0.586),
    (76.0, 0.620), (77.0, 0.641), (78.0, 0.657), (78.9, 0.654), (79.9, 0.651), (80.9, 0.654),
    (81.9, 0.650), (82.9, 0.646), (83.9, 0.644), (84.9, 0.641), (86.0, 0.638), (87.0, 0.635),
    (88.0, 0.631), (89.0, 0.630), (90.0, 0.629), (91.0, 0.625), (91.9, 0.622), (93.0, 0.620),
    (94.0, 0.620), (95.0, 0.624), (95.9, 0.620), (96.9, 0.616), (97.9, 0.612), (98.9, 0.609),
    (100.0, 0.606), (101.0, 0.604), (102.0, 0.601), (102.9, 0.599), (104.0, 0.597), (105.0, 0.596),
    (106.1, 0.594), (107.1, 0.592), (108.0, 0.590), (108.9, 0.589), (109.9, 0.591), (110.9, 0.594),
    (111.9, 0.595), (113.0, 0.596), (114.0, 0.595), (115.0, 0.592), (115.9, 0.592), (117.0, 0.594),
    (118.0, 0.592), (141.8, 0.586), (143.1, 0.589), (145.7, 0.590), (147.4, 0.592), (149.1, 0.591)]

# ------------------------------------------------------------------ STYLE
RED = '#C00000'
BLUE = '#0070C0'
YEL = '#FFC000'
GRAY = '#8C8C8C'


def xy(pairs):
    arr = np.array(pairs, dtype=float)
    return arr[:, 0], arr[:, 1]


fig = plt.figure(figsize=(13.74, 18.63), dpi=100)
axA = fig.add_axes([0.0801, 0.6704, 0.8937, 0.3188])
axB = fig.add_axes([0.0791, 0.3310, 0.8962, 0.3001])
axC = fig.add_axes([0.0771, 0.0347, 0.8993, 0.2870])

# ------------------------------------------------------------------ (a)
ax = axA
l1, = ax.plot(*xy(a_snowm_01), color=RED, lw=1.4, label='SNOW- 0.1m')
l2, = ax.plot(*xy(a_snowm_02), color=BLUE, lw=1.8, label='SNOW- 0.2m')
l3, = ax.plot(*xy(a_snowp_01), color=RED, lw=3.6, label='SNOW+ 0.1m')
l4, = ax.plot(*xy(a_snowp_02), color=BLUE, lw=3.6, label='SNOW+ 0.2m')
ax.set_xlim(0, 45)
ax.set_ylim(-6, 10)
ax.set_xticks(np.arange(0, 46, 5))
ax.set_xticklabels(a_xlabels)
ax.xaxis.set_minor_locator(MultipleLocator(1))
ax.set_yticks(np.arange(-6, 11, 2))
ax.yaxis.set_minor_locator(MultipleLocator(1))
ax.tick_params(axis='x', which='both', direction='in', length=7, width=1.2, color=GRAY,
               top=True, labelsize=19, pad=21)
ax.tick_params(axis='y', which='both', direction='in', length=7, width=1.2, color=GRAY,
               labelsize=19, pad=14)
for s in ax.spines.values():
    s.set_color(GRAY)
    s.set_linewidth(1.6)
ax.set_ylabel('Soil temperature (°C)', fontsize=22)
ax.yaxis.set_label_coords(-0.058, 0.5)
ax.legend(handles=[l1, l2, l3, l4], ncol=4, loc='center left', bbox_to_anchor=(0.138, 0.935),
          frameon=False, fontsize=15, handlelength=2.4, handletextpad=0.35, columnspacing=2.2,
          borderpad=0, borderaxespad=0)
ax.text(0.041, 0.874, '(a)', transform=ax.transAxes, fontsize=20, ha='center', va='center')

# annotation boxes with callout arrows (axes-fraction layout)
ACOL = '#4F81BD'
boxes = [((0.0236, 0.6414), 0.1824, 0.1448, 'SNOW- plot\nsnowmelt (Apr 19)',
          [(0.1303, 0.6414), (0.1303, 0.5832), (0.0338, 0.5832)], (0.0338, 0.4175)),
         ((0.2313, 0.7054), 0.1824, 0.1448, 'SNOW+ plot\nsnowmelt (Apr 25)',
          [(0.2940, 0.6943), (0.2940, 0.5539), (0.1743, 0.5539)], (0.1743, 0.4141))]
for (x0, y0), w, h, txt, path, tip in boxes:
    ax.add_patch(Rectangle((x0, y0), w, h, transform=ax.transAxes, facecolor='white',
                           edgecolor='black', lw=2.4, zorder=5))
    ax.text(x0 + w / 2, y0 + h / 2, txt, transform=ax.transAxes, ha='center', va='center',
            fontsize=15, family=['Lato', 'DejaVu Sans'], linespacing=1.7, zorder=6)
    px = [p[0] for p in path]
    py = [p[1] for p in path]
    ax.plot(px, py, color=ACOL, lw=1.5, transform=ax.transAxes, zorder=4)
    ax.annotate('', xy=tip, xytext=path[-1], xycoords='axes fraction', textcoords='axes fraction',
                arrowprops=dict(arrowstyle='->,head_length=0.9,head_width=0.45', color=ACOL, lw=1.5,
                                shrinkA=0, shrinkB=0), zorder=4)

# ------------------------------------------------------------------ (b)
ax = axB
b1, = ax.plot(*xy(b_snowm_01), color=RED, lw=1.9, label='SNOW- 0.1m')
b2, = ax.plot(*xy(b_snowm_02), color=YEL, lw=1.9, label='SNOW- 0.2m')
b3, = ax.plot(*xy(b_snowm_04), color=BLUE, lw=1.9, label='SNOW- 0.4m')
b4, = ax.plot(*xy(b_snowp_01), color=RED, lw=4.6, label='SNOW+ 0.1m')
b5, = ax.plot(*xy(b_snowp_02), color=YEL, lw=4.6, label='SNOW+ 0.2m')
b6, = ax.plot(*xy(b_snowp_04), color=BLUE, lw=4.6, label='SNOW+ 0.4m')
b7, = ax.plot(*xy(b_air), color='black', lw=1.1, label='Air T')
ax.set_xlim(0, 157)
ax.set_ylim(-15, 30)
xt = [0, 31, 62, 93, 124, 155]
ax.set_xticks(xt)
ax.tick_params(axis='x', direction='in', length=15, width=1.5, color=GRAY, labelbottom=False)
ax.set_yticks(np.arange(-15, 31, 5))
ax.yaxis.set_minor_locator(MultipleLocator(1))
ax.tick_params(axis='y', which='both', direction='in', length=6, width=1.2, color=GRAY,
               labelsize=19, pad=14)
ax.spines['left'].set_color(GRAY)
ax.spines['left'].set_linewidth(1.6)
for k in ('top', 'right', 'bottom'):
    ax.spines[k].set_color('black')
    ax.spines[k].set_linewidth(1.8)
sec = ax.secondary_xaxis(15 / 45)
sec.set_xticks(xt)
sec.tick_params(axis='x', direction='inout', length=20, width=1.5, color=GRAY, labelbottom=False)
sec.spines['bottom'].set_color(GRAY)
sec.spines['bottom'].set_linewidth(2.0)
ax.set_ylabel('Soil and air temperature (°C)', fontsize=24)
ax.yaxis.set_label_coords(-0.056, 0.58)
ax.legend(handles=[b1, b4, b7, b2, b5, b3, b6], ncol=3, loc='upper left',
          bbox_to_anchor=(0.191, 0.975), frameon=False, fontsize=19, handlelength=1.95,
          handletextpad=0.2, columnspacing=2.45, labelspacing=0.55, borderpad=0, borderaxespad=0)
ax.text(0.037, 0.934, '(b)', transform=ax.transAxes, fontsize=20, ha='center', va='center')

# ------------------------------------------------------------------ (c)
ax = axC
c1, = ax.plot(*xy(c_snowm_001), color=RED, lw=1.9, label='SNOW- 0.01m')
c2, = ax.plot(*xy(c_snowm_03), color=BLUE, lw=1.9, label='SNOW- 0.3m')
c3, = ax.plot(*xy(c_snowp_001), color=RED, lw=4.6, label='SNOW+ 0.01m')
c4, = ax.plot(*xy(c_snowp_03), color=BLUE, lw=4.6, label='SNOW+ 0.3m')
ax.set_xlim(0, 157)
ax.set_ylim(0, 0.8)
ax.set_xticks(xt)
ax.set_xticklabels(c_xlabels)
ax.tick_params(axis='x', direction='in', length=13, width=1.5, color=GRAY, labelsize=21, pad=22)
ax.set_yticks(np.arange(0, 0.81, 0.2))
ax.set_yticklabels(['%.1f' % v for v in np.arange(0, 0.81, 0.2)])
ax.yaxis.set_minor_locator(MultipleLocator(0.04))
ax.tick_params(axis='y', which='both', direction='in', length=6, width=1.2, color=GRAY,
               labelsize=19, pad=14)
for k in ('left', 'bottom'):
    ax.spines[k].set_color(GRAY)
    ax.spines[k].set_linewidth(2.0)
for k in ('top', 'right'):
    ax.spines[k].set_color('black')
    ax.spines[k].set_linewidth(1.8)
ax.set_ylabel('Soil moisture (m³/ m³)', fontsize=22)
ax.yaxis.set_label_coords(-0.054, 0.466)
ax.legend(handles=[c1, c2, c3, c4], ncol=4, loc='center left', bbox_to_anchor=(0.0995, 0.956),
          frameon=False, fontsize=19, handlelength=1.9, handletextpad=0.2, columnspacing=1.85,
          borderpad=0, borderaxespad=0)
ax.text(0.034, 0.888, '(c)', transform=ax.transAxes, fontsize=20, ha='center', va='center')

fig.savefig('out.png', dpi=100)
